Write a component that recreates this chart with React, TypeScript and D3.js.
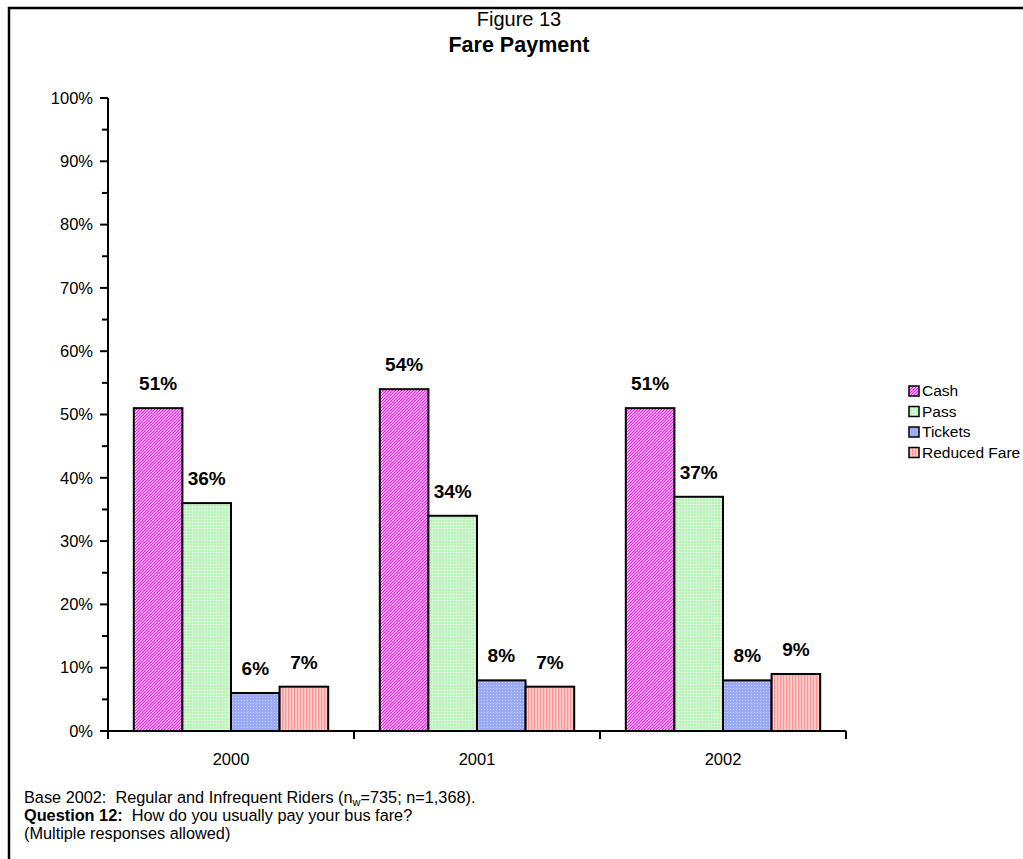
import React from "react";
import * as d3 from "d3";

const categories = ["2000", "2001", "2002"];
const seriesNames = ["Cash", "Pass", "Tickets", "Reduced Fare"];
const cash = [51, 54, 51];
const pass = [36, 34, 37];
const tickets = [6, 8, 8];
const reducedFare = [7, 7, 9];
const yTicks = [0, 10, 20, 30, 40, 50, 60, 70, 80, 90, 100];
const yMinorTicks = [5, 15, 25, 35, 45, 55, 65, 75, 85, 95];

const seriesValues = [cash, pass, tickets, reducedFare];
const patternIds = ["patCash", "patPass", "patTickets", "patReduced"];

const FONT = "Arial, 'Liberation Sans', sans-serif";

export default function App() {
  const W = 1023;
  const H = 859;
  const plot = { left: 108, right: 846, top: 98, bottom: 731 };

  const y = d3.scaleLinear().domain([0, 100]).range([plot.bottom, plot.top]);
  const x0 = d3.scaleBand<string>().domain(categories).range([plot.left, plot.right]).padding(0);
  const catW = x0.bandwidth();
  const barW = 48.6;
  const gap = catW - barW * 4;
  const x1 = d3
    .scaleBand<string>()
    .domain(seriesNames)
    .range([gap / 2, catW - gap / 2])
    .padding(0);

  const catTicks = [...categories.map((c) => x0(c) as number), plot.right];

  return (
    <svg
      width={W}
      height={H}
      style={{ position: "absolute", left: 0, top: 0, background: "#fff" }}
      fontFamily={FONT}
    >
      <defs>
        <pattern id="patCash" width="3" height="3" patternUnits="userSpaceOnUse">
          <rect width="3" height="3" fill="#ffffff" />
          <path d="M-1,1 L1,-1 M0,3 L3,0 M2,4 L4,2" stroke="#ff00ff" strokeWidth="1.2" />
        </pattern>
        <pattern id="patPass" width="3" height="3" patternUnits="userSpaceOnUse">
          <rect width="3" height="3" fill="#c8f7c8" />
          <rect x="0" y="0" width="1" height="1" fill="#ffffff" />
          <rect x="1.5" y="1.5" width="1" height="1" fill="#8de88d" />
        </pattern>
        <pattern id="patTickets" width="3" height="3" patternUnits="userSpaceOnUse">
          <rect width="3" height="3" fill="#9aaaf5" />
          <rect x="1" y="1" width="1" height="1" fill="#c8d0ff" />
        </pattern>
        <pattern id="patReduced" width="3" height="3" patternUnits="userSpaceOnUse">
          <rect width="3" height="3" fill="#ffcccc" />
          <rect x="0" y="0" width="1.2" height="3" fill="#ff9494" />
        </pattern>
      </defs>

      {/* outer frame */}
      <rect x={9} y={8} width={1030} height={870} fill="none" stroke="#000" strokeWidth={2.5} />

      {/* titles */}
      <text x={519} y={26} textAnchor="middle" fontSize={20}>
        Figure 13
      </text>
      <text x={519} y={52} textAnchor="middle" fontSize={21.5} fontWeight="bold">
        Fare Payment
      </text>

      {/* bars */}
      {categories.map((c, ci) => (
        <g key={c} transform={`translate(${x0(c)},0)`}>
          {seriesNames.map((s, si) => {
            const v = seriesValues[si][ci];
            const bx = x1(s) as number;
            return (
              <g key={s}>
                <rect
                  x={bx}
                  y={y(v)}
                  width={x1.bandwidth()}
                  height={plot.bottom - y(v)}
                  fill={`url(#${patternIds[si]})`}
                  stroke="#000"
                  strokeWidth={2}
                />
                <text
                  x={bx + x1.bandwidth() / 2}
                  y={y(v) - 18}
                  textAnchor="middle"
                  fontSize={19}
                  fontWeight="bold"
                >
                  {v}%
                </text>
              </g>
            );
          })}
        </g>
      ))}

      {/* y axis */}
      <line x1={plot.left} x2={plot.left} y1={plot.top} y2={plot.bottom} stroke="#000" strokeWidth={2} />
      {yTicks.map((t) => (
        <g key={t}>
          <line x1={plot.left - 8} x2={plot.left} y1={y(t)} y2={y(t)} stroke="#000" strokeWidth={2} />
          <text x={93} y={y(t)} dy="0.35em" textAnchor="end" fontSize={16.5}>
            {t}%
          </text>
        </g>
      ))}
      {yMinorTicks.map((t) => (
        <line key={t} x1={plot.left - 6} x2={plot.left} y1={y(t)} y2={y(t)} stroke="#000" strokeWidth={2} />
      ))}

      {/* x axis */}
      <line x1={plot.left} x2={plot.right} y1={plot.bottom} y2={plot.bottom} stroke="#000" strokeWidth={2} />
      {catTicks.map((t, i) => (
        <line key={i} x1={t} x2={t} y1={plot.bottom} y2={plot.bottom + 8} stroke="#000" strokeWidth={2} />
      ))}
      {categories.map((c) => (
        <text key={c} x={(x0(c) as number) + catW / 2} y={765} textAnchor="middle" fontSize={16.5}>
          {c}
        </text>
      ))}

      {/* legend */}
      {seriesNames.map((s, i) => (
        <g key={s} transform={`translate(909, ${391 + i * 20.5})`}>
          <rect x={0} y={-5} width={10} height={10} fill={`url(#${patternIds[i]})`} stroke="#000" strokeWidth={1.5} />
          <text x={13} y={0} dy="0.35em" fontSize={15.5}>
            {s}
          </text>
        </g>
      ))}

      {/* footer */}
      <text x={24} y={803} fontSize={16.3} xmlSpace="preserve">
        {"Base 2002:  Regular and Infrequent Riders (n"}
        <tspan fontSize={11} dy={3}>w</tspan>
        <tspan dy={-3}>=735; n=1,368).</tspan>
      </text>
      <text x={24} y={821} fontSize={16.3} xmlSpace="preserve">
        <tspan fontWeight="bold">Question 12:</tspan>
        <tspan>{"  How do you usually pay your bus fare?"}</tspan>
      </text>
      <text x={24} y={839} fontSize={16.3}>
        (Multiple responses allowed)
      </text>
    </svg>
  );
}
